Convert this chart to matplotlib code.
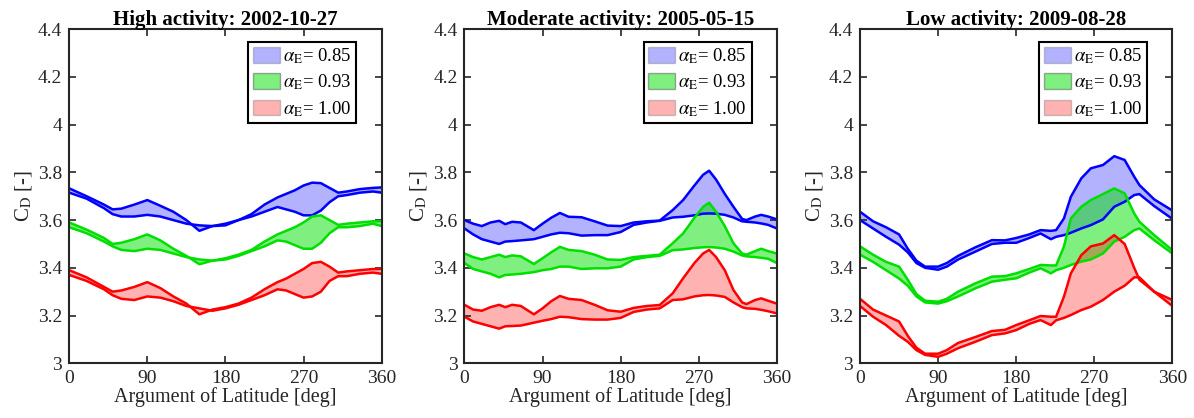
import numpy as np
import matplotlib.pyplot as plt
from matplotlib.patches import Patch

plt.rcParams['font.family'] = ['Liberation Serif', 'DejaVu Serif']
plt.rcParams['mathtext.fontset'] = 'stix'

# ---- data (deg, C_D); each band = two curves a/b ----
titles = ["High activity: 2002-10-27", "Moderate activity: 2005-05-15", "Low activity: 2009-08-28"]
alpha_labels = ["0.85", "0.93", "1.00"]

# High activity
x_high = [0, 20, 40, 50, 60, 75, 90, 105, 120, 135, 150, 165, 180, 195, 210, 225, 240, 250,
          260, 270, 280, 290, 300, 310, 320, 335, 350, 360]
blue_a_high = [3.733, 3.70, 3.665, 3.645, 3.648, 3.665, 3.684, 3.66, 3.635, 3.60, 3.555, 3.575, 3.585, 3.60,
               3.625, 3.665, 3.695, 3.71, 3.725, 3.745, 3.757, 3.755, 3.735, 3.715, 3.72, 3.73, 3.735, 3.737]
blue_b_high = [3.715, 3.69, 3.65, 3.625, 3.615, 3.615, 3.622, 3.615, 3.60, 3.585, 3.578, 3.575, 3.578, 3.60,
               3.615, 3.635, 3.655, 3.645, 3.635, 3.62, 3.62, 3.64, 3.675, 3.70, 3.705, 3.715, 3.72, 3.715]
green_a_high = [3.59, 3.56, 3.525, 3.50, 3.505, 3.52, 3.54, 3.515, 3.48, 3.45, 3.415, 3.43, 3.44, 3.455,
                3.475, 3.51, 3.54, 3.555, 3.57, 3.59, 3.615, 3.62, 3.60, 3.58, 3.585, 3.59, 3.595, 3.595]
green_b_high = [3.57, 3.545, 3.51, 3.49, 3.475, 3.47, 3.48, 3.475, 3.46, 3.445, 3.435, 3.43, 3.435, 3.45,
                3.47, 3.49, 3.515, 3.51, 3.495, 3.48, 3.48, 3.505, 3.545, 3.57, 3.57, 3.575, 3.585, 3.575]
red_a_high = [3.39, 3.36, 3.32, 3.30, 3.305, 3.32, 3.34, 3.315, 3.28, 3.25, 3.205, 3.225, 3.235, 3.25,
              3.275, 3.31, 3.34, 3.355, 3.375, 3.395, 3.42, 3.425, 3.405, 3.38, 3.385, 3.39, 3.395, 3.395]
red_b_high = [3.37, 3.345, 3.31, 3.285, 3.27, 3.265, 3.28, 3.275, 3.26, 3.24, 3.23, 3.22, 3.23, 3.245,
              3.265, 3.285, 3.31, 3.305, 3.29, 3.275, 3.28, 3.30, 3.345, 3.365, 3.365, 3.375, 3.38, 3.375]

# Moderate activity
x_mod = [0, 10, 20, 30, 40, 47, 55, 65, 80, 90, 100, 110, 120, 135, 150, 165, 180, 195, 210, 225,
         240, 252, 265, 275, 282, 290, 300, 310, 320, 325, 335, 342, 350, 360]
blue_a_mod = [3.60, 3.585, 3.575, 3.59, 3.597, 3.583, 3.593, 3.59, 3.558, 3.585, 3.61, 3.63, 3.614, 3.612,
              3.595, 3.577, 3.575, 3.59, 3.595, 3.598, 3.642, 3.684, 3.745, 3.79, 3.807, 3.77, 3.71, 3.656,
              3.605, 3.60, 3.615, 3.622, 3.615, 3.603]
blue_b_mod = [3.565, 3.54, 3.52, 3.51, 3.50, 3.51, 3.512, 3.515, 3.52, 3.53, 3.54, 3.547, 3.545, 3.535,
              3.537, 3.537, 3.55, 3.58, 3.59, 3.597, 3.611, 3.614, 3.62, 3.627, 3.628, 3.627, 3.622, 3.611,
              3.595, 3.593, 3.59, 3.586, 3.58, 3.565]
green_a_mod = [3.46, 3.445, 3.435, 3.445, 3.455, 3.445, 3.452, 3.448, 3.416, 3.44, 3.465, 3.488, 3.475, 3.47,
               3.455, 3.435, 3.433, 3.445, 3.45, 3.455, 3.503, 3.544, 3.61, 3.655, 3.673, 3.635, 3.575, 3.503,
               3.46, 3.455, 3.47, 3.48, 3.47, 3.46]
green_b_mod = [3.42, 3.395, 3.385, 3.375, 3.36, 3.37, 3.372, 3.375, 3.382, 3.39, 3.395, 3.405, 3.405, 3.395,
               3.398, 3.398, 3.405, 3.435, 3.445, 3.45, 3.474, 3.477, 3.483, 3.486, 3.487, 3.485, 3.48, 3.468,
               3.452, 3.448, 3.445, 3.442, 3.438, 3.42]
red_a_mod = [3.245, 3.225, 3.22, 3.235, 3.245, 3.235, 3.245, 3.24, 3.205, 3.23, 3.26, 3.282, 3.27, 3.265,
             3.245, 3.222, 3.216, 3.232, 3.24, 3.244, 3.293, 3.356, 3.42, 3.46, 3.475, 3.445, 3.39, 3.307,
             3.255, 3.248, 3.265, 3.272, 3.262, 3.25]
red_b_mod = [3.195, 3.175, 3.165, 3.155, 3.145, 3.155, 3.156, 3.158, 3.17, 3.178, 3.185, 3.195, 3.193, 3.185,
             3.183, 3.183, 3.19, 3.215, 3.225, 3.23, 3.265, 3.268, 3.28, 3.285, 3.286, 3.284, 3.278, 3.255,
             3.235, 3.23, 3.228, 3.224, 3.218, 3.209]

# Low activity
x_low = [0, 15, 30, 45, 55, 65, 75, 90, 100, 113, 133, 152, 167, 180, 195, 208, 220, 226, 235, 243,
         255, 266, 280, 293, 305, 316, 322, 339, 360]
blue_a_low = [3.635, 3.595, 3.57, 3.54, 3.48, 3.43, 3.405, 3.405, 3.42, 3.45, 3.486, 3.516, 3.515, 3.525,
              3.54, 3.558, 3.555, 3.558, 3.607, 3.698, 3.775, 3.817, 3.831, 3.868, 3.852, 3.782, 3.747,
              3.687, 3.64]
blue_b_low = [3.60, 3.565, 3.53, 3.497, 3.465, 3.42, 3.40, 3.392, 3.405, 3.435, 3.468, 3.50, 3.505, 3.505,
              3.525, 3.544, 3.52, 3.53, 3.537, 3.547, 3.565, 3.579, 3.603, 3.656, 3.677, 3.705, 3.709,
              3.659, 3.605]
green_a_low = [3.49, 3.455, 3.425, 3.405, 3.35, 3.29, 3.262, 3.258, 3.27, 3.30, 3.335, 3.363, 3.365, 3.377,
               3.395, 3.412, 3.41, 3.41, 3.489, 3.607, 3.656, 3.684, 3.709, 3.733, 3.712, 3.628, 3.593,
               3.537, 3.474]
green_b_low = [3.455, 3.425, 3.39, 3.355, 3.325, 3.28, 3.255, 3.25, 3.26, 3.28, 3.314, 3.342, 3.35, 3.356,
               3.38, 3.398, 3.377, 3.39, 3.40, 3.412, 3.426, 3.435, 3.46, 3.51, 3.53, 3.558, 3.565,
               3.516, 3.46]
red_a_low = [3.27, 3.225, 3.20, 3.175, 3.115, 3.065, 3.04, 3.04, 3.055, 3.085, 3.11, 3.135, 3.14, 3.16,
             3.18, 3.198, 3.195, 3.195, 3.279, 3.377, 3.453, 3.49, 3.502, 3.537, 3.50, 3.40, 3.35,
             3.30, 3.265]
red_b_low = [3.24, 3.195, 3.16, 3.115, 3.09, 3.055, 3.035, 3.027, 3.04, 3.063, 3.09, 3.118, 3.125, 3.139,
             3.165, 3.181, 3.16, 3.18, 3.19, 3.202, 3.223, 3.237, 3.265, 3.30, 3.325, 3.36, 3.36,
             3.30, 3.24]

panels = [
    (x_high, [(blue_a_high, blue_b_high), (green_a_high, green_b_high), (red_a_high, red_b_high)]),
    (x_mod, [(blue_a_mod, blue_b_mod), (green_a_mod, green_b_mod), (red_a_mod, red_b_mod)]),
    (x_low, [(blue_a_low, blue_b_low), (green_a_low, green_b_low), (red_a_low, red_b_low)]),
]

colors = ['#0000ff', '#00e000', '#ff0000']
fill_alpha = [0.3, 0.5, 0.3]
edge_c = '#262626'

fig = plt.figure(figsize=(11.94, 4.18), dpi=100)
lefts = [0.058, 0.389, 0.7203]

for i, (x, bands) in enumerate(panels):
    ax = fig.add_axes([lefts[i], 0.131, 0.2616, 0.799])
    for (a, b), c, al in zip(bands, colors, fill_alpha):
        ax.fill_between(x, a, b, color=c, alpha=al, linewidth=0)
        ax.plot(x, a, color=c, lw=1.8)
        ax.plot(x, b, color=c, lw=1.8)

    ax.set_xlim(0, 360)
    ax.set_ylim(3, 4.4)
    ax.set_xticks([0, 90, 180, 270, 360])
    yt = [3, 3.2, 3.4, 3.6, 3.8, 4, 4.2, 4.4]
    ax.set_yticks(yt)
    ax.set_yticklabels([f"{v:g}" for v in yt])
    ax.tick_params(direction='in', top=True, right=True, length=5, width=1.2,
                   labelsize=14, colors=edge_c, pad=5)
    for s in ax.spines.values():
        s.set_linewidth(1.5)
        s.set_color(edge_c)
    ax.set_xlabel("Argument of Latitude [deg]", fontsize=14.5, color=edge_c, labelpad=0)
    ax.set_ylabel(r"C$_{\rm D}$ [-]", fontsize=15, color=edge_c, labelpad=3)
    ax.set_title(titles[i], fontsize=15, fontweight='bold', pad=3)

    handles = [Patch(facecolor=c, alpha=al, edgecolor='#555555', linewidth=1.0)
               for c, al in zip(colors, fill_alpha)]
    labels = [r"$\alpha_{\rm E}$= " + s for s in alpha_labels]
    leg = ax.legend(handles, labels, loc='upper right', bbox_to_anchor=(0.919, 0.963),
                    borderaxespad=0, fontsize=13.5, fancybox=False, framealpha=1,
                    edgecolor='black', handlelength=1.45, handleheight=0.9,
                    handletextpad=0.15, labelspacing=0.35, borderpad=0.25)
    leg.get_frame().set_linewidth(1.5)

fig.savefig("out.png", dpi=100)
